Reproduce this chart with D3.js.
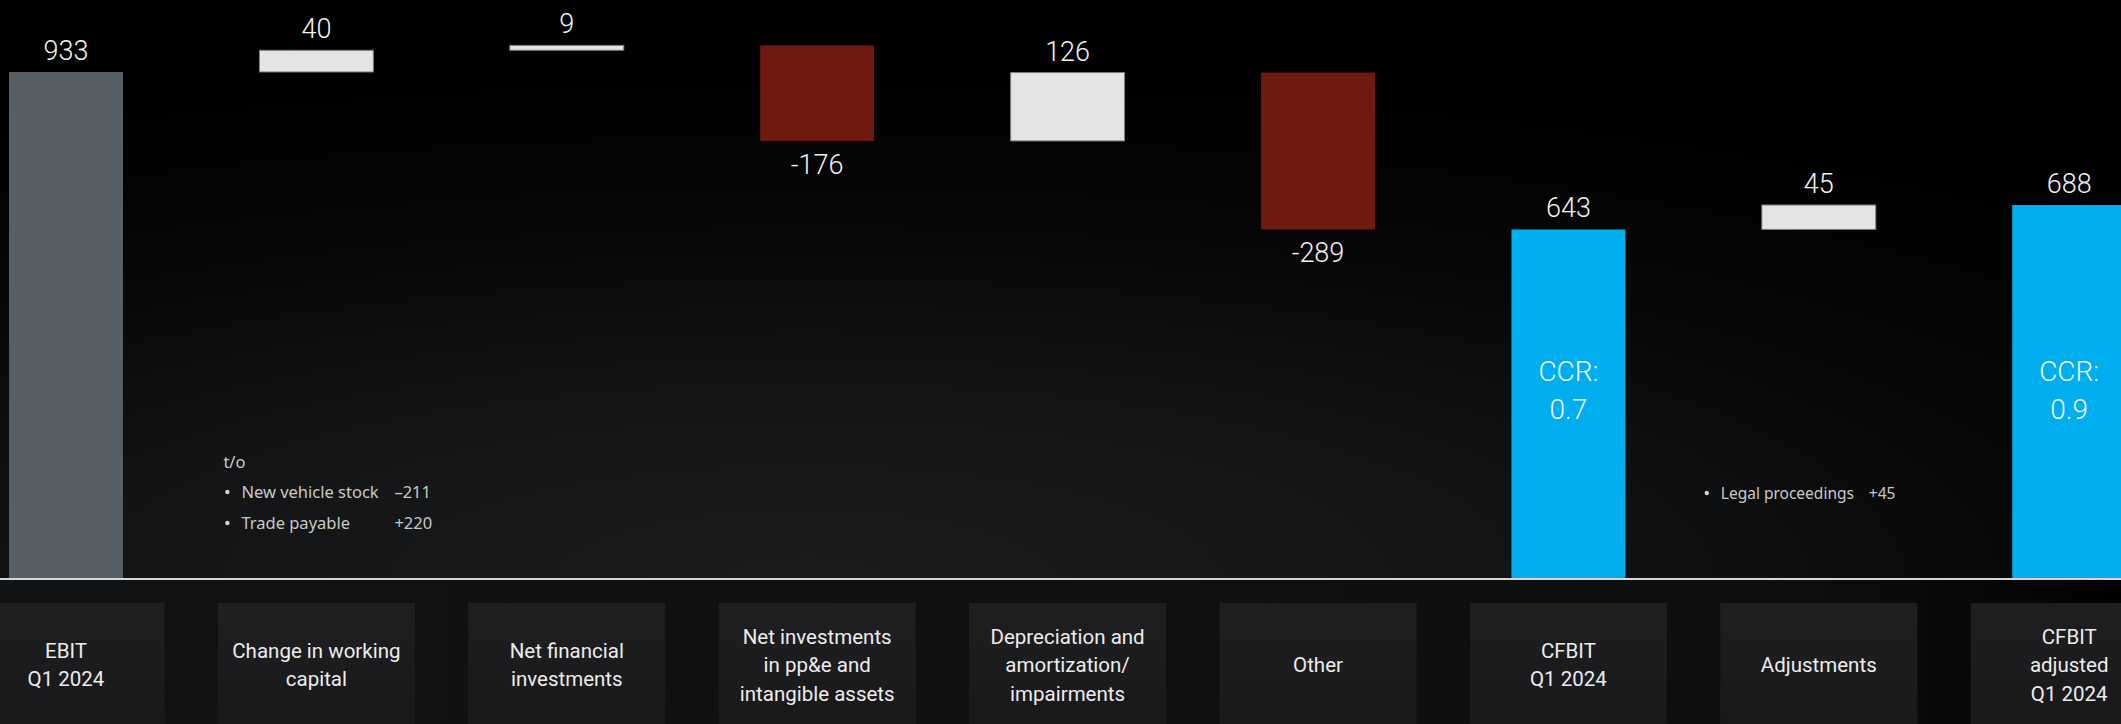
<!DOCTYPE html>
<html>
<head>
<meta charset="utf-8">
<script src="https://cdn.jsdelivr.net/npm/d3@7"></script>
<style>
  html, body { margin: 0; padding: 0; background: #000; overflow: hidden; }
  svg { display: block; }
  .num { font-family: Roboto, "Noto Sans", "Liberation Sans", sans-serif; font-weight: 300; }
  .cat { font-family: Roboto, "Noto Sans", "Liberation Sans", sans-serif; font-weight: 400; }
  .note { font-family: "Noto Sans", "Open Sans", "Liberation Sans", sans-serif; font-weight: 400; }
</style>
</head>
<body>
<script>
// Cash flow bridge: EBIT to CFBIT, Q1 2024 (EUR million)
const categories = [
  "EBIT Q1 2024",
  "Change in working capital",
  "Net financial investments",
  "Net investments in pp&e and intangible assets",
  "Depreciation and amortization/ impairments",
  "Other",
  "CFBIT Q1 2024",
  "Adjustments",
  "CFBIT adjusted Q1 2024"
];
const categoryLines = [
  ["EBIT", "Q1 2024"],
  ["Change in working", "capital"],
  ["Net financial", "investments"],
  ["Net investments", "in pp&e and", "intangible assets"],
  ["Depreciation and", "amortization/", "impairments"],
  ["Other"],
  ["CFBIT", "Q1 2024"],
  ["Adjustments"],
  ["CFBIT", "adjusted", "Q1 2024"]
];
const values = [933, 40, 9, -176, 126, -289, 643, 45, 688];
const barKinds = ["base", "delta", "delta", "delta", "delta", "delta", "total", "delta", "total"];

const ccrCategories = ["CFBIT Q1 2024", "CFBIT adjusted Q1 2024"];
const ccrValues = ["0.7", "0.9"];

const wcHeader = "t/o";
const wcItems = ["New vehicle stock", "Trade payable"];
const wcValues = ["\u2013211", "+220"];
const adjItems = ["Legal proceedings"];
const adjValues = ["+45"];

const W = 2121, H = 724;
const baseY = 578.5;

const svg = d3.select("body").append("svg")
  .attr("width", W).attr("height", H);

const defs = svg.append("defs");
const glow = defs.append("radialGradient").attr("id", "glow")
  .attr("cx", 0.38).attr("cy", 1).attr("r", 0.9);
[[0, "#1b1c1e"], [0.35, "#131416"], [0.7, "#060607"], [1, "#000"]].forEach(([o, c]) =>
  glow.append("stop").attr("offset", o).attr("stop-color", c));

const floor = defs.append("linearGradient").attr("id", "floor")
  .attr("x1", 0).attr("x2", 1).attr("y1", 0).attr("y2", 0);
[[0, "#111214"], [0.85, "#0d0e10"], [0.96, "#050506"], [1, "#000"]].forEach(([o, c]) =>
  floor.append("stop").attr("offset", o).attr("stop-color", c));

const tile = defs.append("linearGradient").attr("id", "tile")
  .attr("x1", 0).attr("x2", 0).attr("y1", 0).attr("y2", 1);
[[0, "#1e1f21"], [1, "#19191b"]].forEach(([o, c]) =>
  tile.append("stop").attr("offset", o).attr("stop-color", c));

svg.append("rect").attr("width", W).attr("height", baseY).attr("fill", "url(#glow)");
svg.append("rect").attr("y", baseY).attr("width", W).attr("height", H - baseY).attr("fill", "url(#floor)");

// scales
const step = 250.4;
const x = d3.scaleBand()
  .domain(categories)
  .range([66 - step / 2, 66 - step / 2 + step * categories.length])
  .paddingInner(0.545)
  .paddingOuter(0.2725);
const y = d3.scaleLinear().domain([0, 1065.6]).range([baseY, 0]);
const cx = c => x(c) + x.bandwidth() / 2;
const fmt = d3.formatLocale({ decimal: ".", thousands: ",", grouping: [3], currency: ["", ""], minus: "-" }).format("d");

// waterfall segments
let running = 0;
const bars = categories.map((c, i) => {
  const v = values[i];
  let lo, hi;
  if (barKinds[i] === "delta") {
    lo = Math.min(running, running + v);
    hi = Math.max(running, running + v);
    running += v;
  } else {
    lo = 0; hi = v; running = v;
  }
  return { c, v, kind: barKinds[i], lo, hi };
});

const fillFor = d => d.kind === "base" ? "#575f66"
  : d.kind === "total" ? "#00aeef"
  : d.v < 0 ? "#6f1a10" : "#e4e4e4";

svg.append("g").selectAll("rect").data(bars).join("rect")
  .attr("x", d => x(d.c))
  .attr("y", d => y(d.hi))
  .attr("width", x.bandwidth())
  .attr("height", d => y(d.lo) - y(d.hi))
  .attr("fill", fillFor)
  .attr("stroke", d => d.kind === "delta" && d.v > 0 ? "#7c7c7c" : "none")
  .attr("stroke-width", 1);

// value labels
svg.append("g").selectAll("text").data(bars).join("text")
  .attr("class", "num")
  .attr("x", d => cx(d.c))
  .attr("y", d => d.v < 0 ? y(d.lo) + 33 : y(d.hi) - 12)
  .attr("text-anchor", "middle")
  .attr("font-size", 27)
  .attr("fill", "#f2f2f2")
  .text(d => fmt(d.v));

// cash conversion ratio inside the CFBIT bars
ccrCategories.forEach((c, i) => {
  const g = svg.append("g").attr("class", "num").attr("fill", "#eef8fd")
    .attr("font-size", 28).attr("text-anchor", "middle");
  g.append("text").attr("x", cx(c)).attr("y", baseY - 198).text("CCR:");
  g.append("text").attr("x", cx(c)).attr("y", baseY - 160).text(ccrValues[i]);
});

// axis line
svg.append("line").attr("x1", 0).attr("x2", W).attr("y1", baseY + 0.5).attr("y2", baseY + 0.5)
  .attr("stroke", "#d6d6d6").attr("stroke-width", 2);

// category tiles
const tileW = 197;
const tiles = svg.append("g").selectAll("g").data(categories).join("g");
tiles.append("rect")
  .attr("x", d => cx(d) - tileW / 2)
  .attr("y", 603)
  .attr("width", tileW)
  .attr("height", H - 603)
  .attr("fill", "url(#tile)");
tiles.each(function (d, i) {
  const lines = categoryLines[i];
  const t = d3.select(this).append("text")
    .attr("class", "cat")
    .attr("text-anchor", "middle")
    .attr("font-size", 20.5)
    .attr("fill", "#ececec");
  lines.forEach((ln, j) => {
    t.append("tspan")
      .attr("x", cx(d))
      .attr("y", 672 + (j - (lines.length - 1) / 2) * 28.5)
      .text(ln);
  });
});

// footnotes
const wcX = cx(categories[1]);
const noteWC = svg.append("g").attr("class", "note").attr("font-size", 16.5).attr("fill", "#c9c9c9");
noteWC.append("text").attr("x", wcX - 93).attr("y", 468).text(wcHeader);
wcItems.forEach((it, i) => {
  const yy = 498 + i * 31;
  noteWC.append("circle").attr("cx", wcX - 89).attr("cy", yy - 6).attr("r", 2.2).attr("fill", "#d0d0d0");
  noteWC.append("text").attr("x", wcX - 75).attr("y", yy).text(it);
  noteWC.append("text").attr("x", wcX + 78).attr("y", yy).text(wcValues[i]);
});

const adjX = cx(categories[7]);
const noteAdj = svg.append("g").attr("class", "note").attr("font-size", 15.5).attr("fill", "#c9c9c9");
adjItems.forEach((it, i) => {
  const yy = 499 + i * 31;
  noteAdj.append("circle").attr("cx", adjX - 112).attr("cy", yy - 6).attr("r", 2.2).attr("fill", "#d0d0d0");
  noteAdj.append("text").attr("x", adjX - 98).attr("y", yy).text(it);
  noteAdj.append("text").attr("x", adjX + 50).attr("y", yy).text(adjValues[i]);
});
</script>
</body>
</html>
